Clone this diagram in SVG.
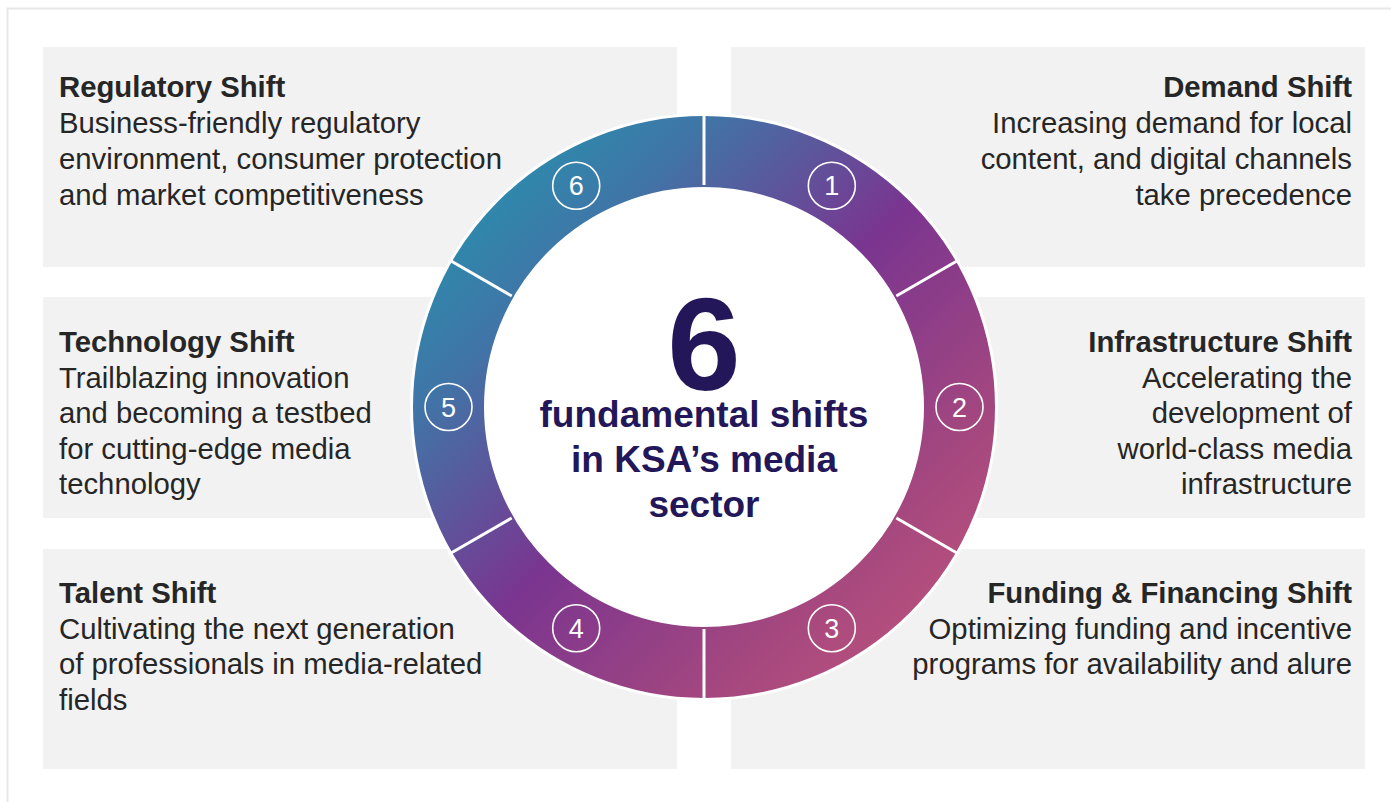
<svg xmlns="http://www.w3.org/2000/svg" width="1391" height="802" viewBox="0 0 1391 802">
  <defs>
    <style>
      .box { fill: #f2f2f2; }
      .title { font-family: "Liberation Sans", Arial, sans-serif; font-weight: bold; font-size: 29.3px; fill: #262626; }
      .body { font-family: "Liberation Sans", Arial, sans-serif; font-size: 29.3px; fill: #262626; }
      .right { text-anchor: end; }
      .sep { stroke: #ffffff; stroke-width: 3; }
      .badge { fill: none; stroke: #ffffff; stroke-width: 1.6; }
      .num { font-family: "Liberation Sans", Arial, sans-serif; font-size: 27px; fill: #ffffff; text-anchor: middle; }
      .hub { font-family: "Liberation Sans", Arial, sans-serif; font-weight: bold; fill: #23175a; text-anchor: middle; }
    </style>
    <linearGradient id="ringGrad" gradientUnits="userSpaceOnUse" x1="413" y1="116" x2="995" y2="698">
      <stop offset="0" stop-color="#1a9fb3"/>
      <stop offset="0.25" stop-color="#3f76a7"/>
      <stop offset="0.5" stop-color="#7a3590"/>
      <stop offset="0.75" stop-color="#a4477f"/>
      <stop offset="1" stop-color="#c8597a"/>
    </linearGradient>
  </defs>

  <rect width="1391" height="802" fill="#ffffff"/>
  <!-- outer frame -->
  <path d="M7.5 802 V8.5 H1391" fill="none" stroke="#e8e8e8" stroke-width="2"/>

  <!-- shift panels -->
  <g id="regulatory-shift">
    <rect class="box" x="43" y="47" width="634" height="220"/>
    <text class="title" x="59" y="97">Regulatory Shift</text>
    <text class="body" x="59" y="133">Business-friendly regulatory</text>
    <text class="body" x="59" y="169">environment, consumer protection</text>
    <text class="body" x="59" y="205">and market competitiveness</text>
  </g>
  <g id="demand-shift">
    <rect class="box" x="731" y="47" width="634" height="220"/>
    <text class="title right" x="1352" y="97">Demand Shift</text>
    <text class="body right" x="1352" y="133">Increasing demand for local</text>
    <text class="body right" x="1352" y="169">content, and digital channels</text>
    <text class="body right" x="1352" y="205">take precedence</text>
  </g>
  <g id="technology-shift">
    <rect class="box" x="43" y="297" width="634" height="221"/>
    <text class="title" x="59" y="352">Technology Shift</text>
    <text class="body" x="59" y="388">Trailblazing innovation</text>
    <text class="body" x="59" y="423">and becoming a testbed</text>
    <text class="body" x="59" y="459">for cutting-edge media</text>
    <text class="body" x="59" y="494">technology</text>
  </g>
  <g id="infrastructure-shift">
    <rect class="box" x="731" y="297" width="634" height="221"/>
    <text class="title right" x="1352" y="352">Infrastructure Shift</text>
    <text class="body right" x="1352" y="388">Accelerating the</text>
    <text class="body right" x="1352" y="423">development of</text>
    <text class="body right" x="1352" y="459">world-class media</text>
    <text class="body right" x="1352" y="494">infrastructure</text>
  </g>
  <g id="talent-shift">
    <rect class="box" x="43" y="549" width="634" height="220"/>
    <text class="title" x="59" y="603">Talent Shift</text>
    <text class="body" x="59" y="639">Cultivating the next generation</text>
    <text class="body" x="59" y="674">of professionals in media-related</text>
    <text class="body" x="59" y="710">fields</text>
  </g>
  <g id="funding-shift">
    <rect class="box" x="731" y="549" width="634" height="220"/>
    <text class="title right" x="1352" y="603">Funding &amp; Financing Shift</text>
    <text class="body right" x="1352" y="639">Optimizing funding and incentive</text>
    <text class="body right" x="1352" y="674">programs for availability and alure</text>
  </g>

  <!-- central ring -->
  <g id="ring">
    <circle cx="704" cy="407" r="294" fill="#ffffff"/>
    <circle cx="704" cy="407" r="255.5" fill="none" stroke="url(#ringGrad)" stroke-width="71"/>
    <g id="separators">
      <line class="sep" x1="704" y1="185" x2="704" y2="112"/>
      <line class="sep" x1="896.3" y1="296" x2="959.5" y2="259.5"/>
      <line class="sep" x1="896.3" y1="518" x2="959.5" y2="554.5"/>
      <line class="sep" x1="704" y1="629" x2="704" y2="702"/>
      <line class="sep" x1="511.7" y1="518" x2="448.5" y2="554.5"/>
      <line class="sep" x1="511.7" y1="296" x2="448.5" y2="259.5"/>
    </g>
  </g>

  <g id="badge-1"><circle class="badge" cx="831.8" cy="185.7" r="23.5"/><text class="num" x="831.8" y="195.3">1</text></g>
  <g id="badge-2"><circle class="badge" cx="959.5" cy="407" r="23.5"/><text class="num" x="959.5" y="416.6">2</text></g>
  <g id="badge-3"><circle class="badge" cx="831.8" cy="628.3" r="23.5"/><text class="num" x="831.8" y="637.9">3</text></g>
  <g id="badge-4"><circle class="badge" cx="576.2" cy="628.3" r="23.5"/><text class="num" x="576.2" y="637.9">4</text></g>
  <g id="badge-5"><circle class="badge" cx="448.5" cy="407" r="23.5"/><text class="num" x="448.5" y="416.6">5</text></g>
  <g id="badge-6"><circle class="badge" cx="576.2" cy="185.7" r="23.5"/><text class="num" x="576.2" y="195.3">6</text></g>

  <g id="hub">
    <text class="hub" x="704" y="390" font-size="132">6</text>
    <text class="hub" x="704" y="427" font-size="37">fundamental shifts</text>
    <text class="hub" x="704" y="472" font-size="37">in KSA’s media</text>
    <text class="hub" x="704" y="517" font-size="37">sector</text>
  </g>
</svg>
